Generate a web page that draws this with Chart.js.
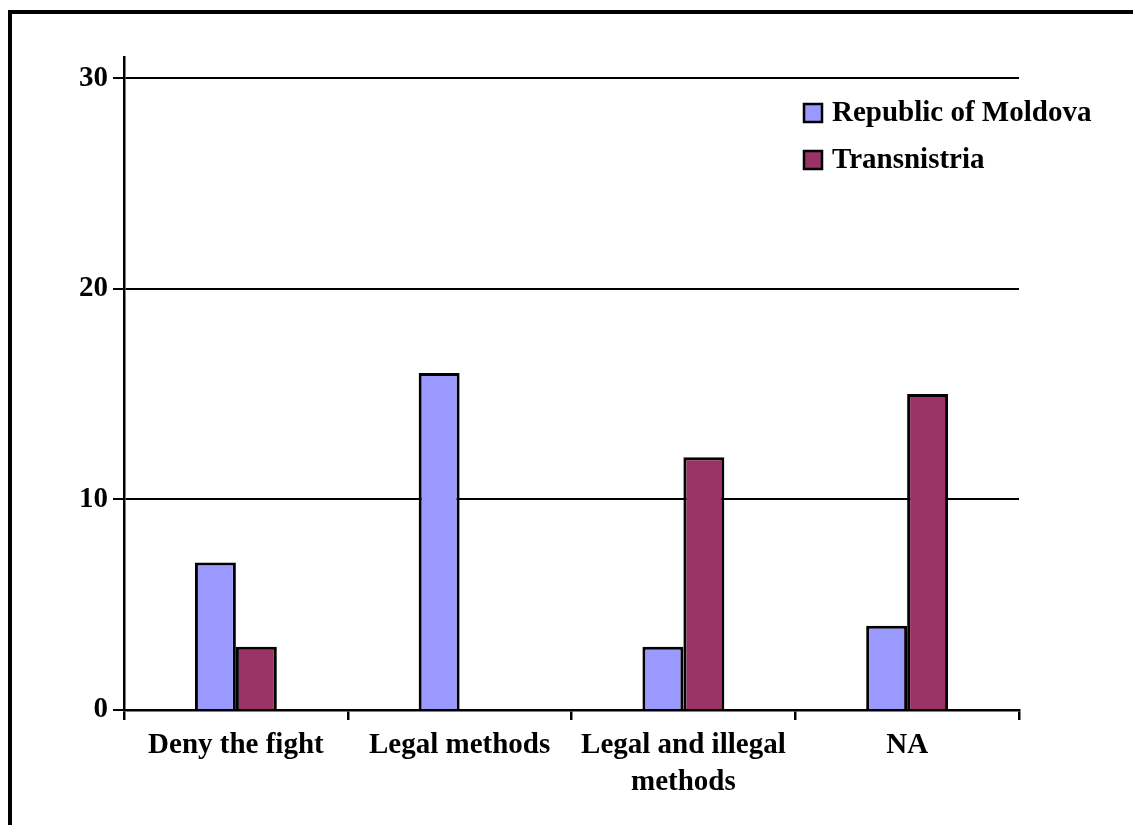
<!DOCTYPE html>
<html>
<head>
<meta charset="utf-8">
<script src="https://cdn.jsdelivr.net/npm/chart.js@4/dist/chart.umd.min.js"></script>
<style>
  html, body { margin: 0; padding: 0; background: #fff; }
  #wrap { width: 1133px; height: 825px; position: relative; }
</style>
</head>
<body>
<div id="wrap"><canvas id="methodsChart"></canvas></div>
<script>
const categories = ["Deny the fight", "Legal methods", ["Legal and illegal", "methods"], "NA"];
const moldova = [7, 16, 3, 4];
const transnistria = [3, 0, 12, 15];
const yTicks = [0, 10, 20, 30];

const baseFont = { family: "'Liberation Serif', 'Times New Roman', serif", size: 29, weight: "bold" };

// black frame on top and left edge, like the cropped original
const framePlugin = {
    id: "frame",
    beforeDraw(chart) {
        const ctx = chart.ctx;
        ctx.save();
        ctx.fillStyle = "#fff";
        ctx.fillRect(0, 0, chart.width, chart.height);
        ctx.fillStyle = "#000";
        ctx.fillRect(8, 10, chart.width - 8, 4);
        ctx.fillRect(8, 10, 4, chart.height - 10);
        ctx.restore();
    }
};

// legend inside the plot, top right
const boxLegend = {
    id: "boxLegend",
    afterDraw(chart) {
        const ctx = chart.ctx;
        ctx.save();
        ctx.font = "bold 29px 'Liberation Serif', 'Times New Roman', serif";
        ctx.textBaseline = "middle";
        chart.data.datasets.forEach((ds, i) => {
            const y = 113 + i * 47;
            ctx.fillStyle = ds.backgroundColor;
            ctx.fillRect(804, y - 9, 18, 18);
            ctx.lineWidth = 2.5;
            ctx.strokeStyle = "#000";
            ctx.strokeRect(804, y - 9, 18, 18);
            ctx.fillStyle = "#000";
            ctx.fillText(ds.label, 832, y + 1);
        });
        ctx.restore();
    }
};

new Chart(document.getElementById("methodsChart").getContext("2d"), {
    type: "bar",
    data: {
        labels: categories,
        datasets: [{
            label: "Republic of Moldova",
            data: moldova,
            backgroundColor: "#9999FF",
            borderColor: "#000",
            borderWidth: 3,
            categoryPercentage: 0.366,
            barPercentage: 1
        }, {
            label: "Transnistria",
            data: transnistria,
            backgroundColor: "#993366",
            borderColor: "#000",
            borderWidth: 3,
            categoryPercentage: 0.366,
            barPercentage: 1
        }]
    },
    options: {
        responsive: true,
        maintainAspectRatio: false,
        animation: false,
        layout: { padding: { top: 57, right: 114, left: 0, bottom: 0 } },
        plugins: { legend: { display: false }, tooltip: { enabled: false } },
        scales: {
            x: {
                afterFit: (s) => { s.height = 115; },
                border: { color: "#000", width: 2.5 },
                grid: { drawOnChartArea: false, color: "#000", lineWidth: 2.5, tickLength: 10, offset: true },
                ticks: { color: "#000", font: { ...baseFont, lineHeight: 37 / 29 }, padding: 7, maxRotation: 0, autoSkip: false }
            },
            y: {
                min: 0,
                max: 31,
                afterBuildTicks: (s) => { s.ticks = yTicks.map((v) => ({ value: v })); },
                afterFit: (s) => { s.width = 124; },
                border: { color: "#000", width: 2.5 },
                grid: { color: "#000", lineWidth: 2, tickLength: 11 },
                ticks: { color: "#000", font: baseFont, padding: 5 }
            }
        }
    },
    plugins: [framePlugin, boxLegend]
});
</script>
</body>
</html>
